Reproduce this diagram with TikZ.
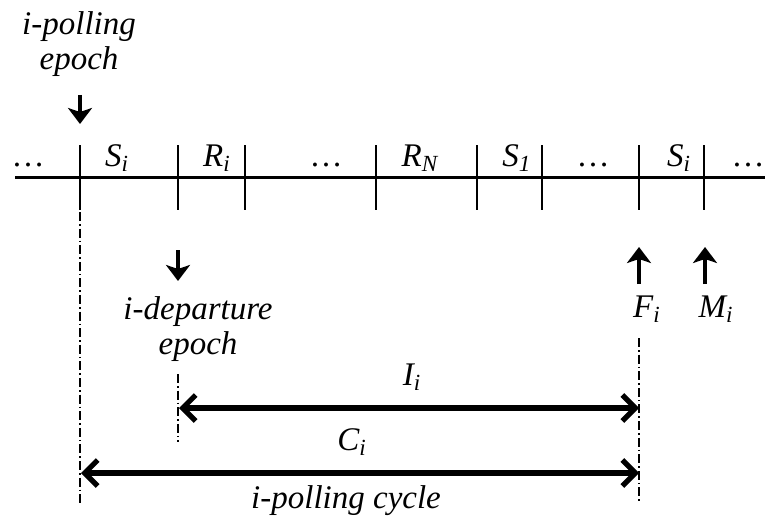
\documentclass[tikz,border=0pt]{standalone}
\usepackage{fontspec}
\setmainfont{Liberation Serif}
\usetikzlibrary{arrows.meta, positioning}

\newcommand{\sub}[2]{\textit{#1}\textsubscript{\textit{#2}}}

\begin{document}
\begin{tikzpicture}[
  x=0.5pt, y=-0.5pt,
  font=\fontsize{16.5}{17.5}\selectfont\itshape,
  axis/.style   = {line width=1.5pt},
  tickmark/.style = {line width=1.3pt},
  seg/.style    = {anchor=base, inner sep=0pt},
  note/.style   = {align=center, inner sep=0pt},
  epocharr/.style = {-{Stealth[length=8pt, width=12pt, inset=2pt]},
                   line width=2.4pt},
  span/.style   = {{Straight Barb[length=6.5pt, width=13pt]}-{Straight Barb[length=6.5pt, width=13pt]},
                   line width=2.6pt},
  guide/.style  = {line width=1.2pt, dash pattern=on 4.5pt off 1.5pt on 0.8pt off 1.5pt},
]
\useasboundingbox (0,0) rectangle (765,524);

%% Time axis
\coordinate (axL) at (15,177);
\coordinate (axR) at (775,177);
\draw[axis] (axL) -- (axR);

\foreach \x/\n in {80/pA, 178/pB, 245/pC, 376/pD, 477/pE, 542/pF, 639/pG, 704/pH}{
  \coordinate (\n) at (\x,177);
  \draw[tickmark] (\x,145) -- (\x,210);
}

%% Slot labels
\node[seg] (dotsA) at (28,166)  {\upshape\ldots};
\node[seg] (segS)  at (117,166) {\sub{S}{i}};
\node[seg] (segR)  at (217,166) {\sub{R}{i}};
\node[seg] (dotsB) at (326,166) {\upshape\ldots};
\node[seg] (segRN) at (420,166) {\sub{R}{N}};
\node[seg] (segS1) at (517,166) {\sub{S}{1}};
\node[seg] (dotsC) at (593,166) {\upshape\ldots};
\node[seg] (segS2) at (679,166) {\sub{S}{i}};
\node[seg] (dotsD) at (748,166) {\upshape\ldots};

%% Polling epoch
\node[note] (pollText) at (79,44) {i-polling\\epoch};
\coordinate (pollTop) at (80,95);
\coordinate (pollTip) at (80,124);
\draw[epocharr] (pollTop) -- (pollTip);

%% Departure epoch
\node[note] (depText) at (198,329) {i-departure\\epoch};
\coordinate (depTop) at (178,250);
\coordinate (depTip) at (178,281);
\draw[epocharr] (depTop) -- (depTip);

%% F_i and M_i
\coordinate (fBot) at (639,284);
\coordinate (fTip) at (639,247);
\coordinate (mBot) at (705,284);
\coordinate (mTip) at (705,247);
\draw[epocharr] (fBot) -- (fTip);
\draw[epocharr] (mBot) -- (mTip);
\node[seg] (labF) at (647,317) {\sub{F}{i}};
\node[seg] (labM) at (716,317) {\sub{M}{i}};

%% Guides
\coordinate (gA1) at (80,212);  \coordinate (gA2) at (80,505);
\coordinate (gB1) at (178,374); \coordinate (gB2) at (178,442);
\coordinate (gG1) at (639,338); \coordinate (gG2) at (639,504);
\draw[guide] (gA1) -- (gA2);
\draw[guide] (gB1) -- (gB2);
\draw[guide] (gG1) -- (gG2);

%% Intervals
\coordinate (iBeg) at (179,408); \coordinate (iEnd) at (639,408);
\coordinate (cBeg) at (81,473);  \coordinate (cEnd) at (639,473);
\draw[span] (iBeg) -- (iEnd);
\draw[span] (cBeg) -- (cEnd);
\node[seg] (labI) at (412,385) {\sub{I}{i}};
\node[seg] (labC) at (352,450) {\sub{C}{i}};
\node[seg] (cycle) at (346,508) {i-polling cycle};

\end{tikzpicture}
\end{document}
